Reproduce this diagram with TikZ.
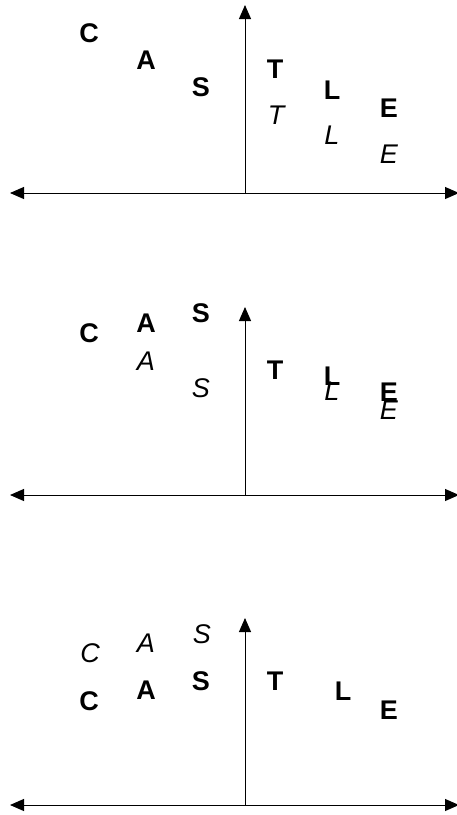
\documentclass[tikz,border=0pt]{standalone}
\usepackage{fontspec}
\setmainfont{Liberation Sans}
\usetikzlibrary{arrows.meta}
\tikzset{
  axis/.style={line width=1pt, {Triangle[length=14pt,width=12pt]}-{Triangle[length=14pt,width=12pt]}},
  vaxis/.style={line width=1pt, -{Triangle[length=14pt,width=12pt]}},
  bl/.style={inner sep=0pt, font=\fontsize{27}{27}\selectfont\bfseries},
  il/.style={inner sep=0pt, font=\fontsize{27}{27}\selectfont\itshape},
}
\begin{document}
\begin{tikzpicture}[x=1pt,y=-1pt]
\useasboundingbox (0,0) rectangle (457,815);
% panel 1
\coordinate (l1) at (10,193); \coordinate (r1) at (459,193);
\coordinate (o1) at (245,193); \coordinate (t1) at (245,5);
\draw[axis] (l1) -- (r1);
\draw[vaxis] (o1) -- (t1);
\node[bl] (c1) at (89,33) {C};
\node[bl] (a1) at (146,60) {A};
\node[bl] (s1) at (201,87) {S};
\node[bl] (tb1) at (275,69) {T};
\node[bl] (lb1) at (332,90) {L};
\node[bl] (eb1) at (389,108) {E};
\node[il] (ti1) at (276,115) {T};
\node[il] (li1) at (332,135) {L};
\node[il] (ei1) at (389,154) {E};
% panel 2
\coordinate (l2) at (10,495); \coordinate (r2) at (459,495);
\coordinate (o2) at (245,495); \coordinate (t2) at (245,307);
\draw[axis] (l2) -- (r2);
\draw[vaxis] (o2) -- (t2);
\node[bl] (c2) at (89,333) {C};
\node[bl] (ab2) at (146,323) {A};
\node[il] (ai2) at (146,361) {A};
\node[bl] (sb2) at (201,313) {S};
\node[il] (si2) at (201,388) {S};
\node[bl] (tb2) at (275,370) {T};
\node[bl] (lb2) at (332,376) {L};
\node[il] (li2) at (332,391) {L};
\node[bl] (eb2) at (389,392) {E};
\node[il] (ei2) at (389,410) {E};
% panel 3
\coordinate (l3) at (10,805); \coordinate (r3) at (459,805);
\coordinate (o3) at (245,805); \coordinate (t3) at (245,618);
\draw[axis] (l3) -- (r3);
\draw[vaxis] (o3) -- (t3);
\node[il] (ci3) at (90,653) {C};
\node[bl] (cb3) at (89,701) {C};
\node[il] (ai3) at (146,643) {A};
\node[bl] (ab3) at (146,690) {A};
\node[il] (si3) at (202,634) {S};
\node[bl] (sb3) at (201,681) {S};
\node[bl] (tb3) at (275,681) {T};
\node[bl] (lb3) at (343,691) {L};
\node[bl] (eb3) at (389,710) {E};
\end{tikzpicture}
\end{document}
